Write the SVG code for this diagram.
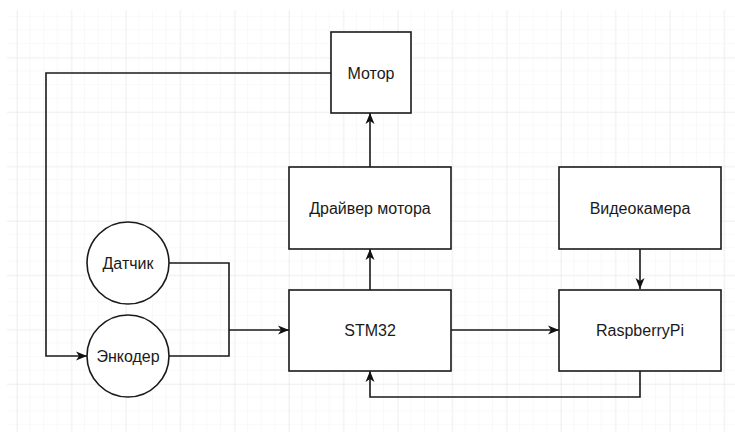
<svg xmlns="http://www.w3.org/2000/svg" width="735" height="432" viewBox="0 0 735 432">
<defs>
<pattern id="minor" patternUnits="userSpaceOnUse" x="3.4" y="3.3" width="13.6" height="13.6">
<path d="M13.6 0V13.6M0 13.6H13.6" fill="none" stroke="#f3f3f3" stroke-width="1"/>
</pattern>
<pattern id="major" patternUnits="userSpaceOnUse" x="17" y="3.3" width="54.4" height="54.4">
<path d="M0 0V54.4M0 0H54.4" fill="none" stroke="#e6e6e6" stroke-width="1"/>
</pattern>
<marker id="arr" viewBox="0 0 11 10" refX="11" refY="5" markerWidth="11" markerHeight="10" markerUnits="userSpaceOnUse" orient="auto">
<path d="M0,0.5 L11,5 L0,9.5 L3,5 z" fill="#111"/>
</marker>
<style>
.box{fill:#fff;stroke:#1a1a1a;stroke-width:1.6}
.lbl{font-family:"Liberation Sans",Arial,sans-serif;font-size:16px;fill:#1a1a1a;text-anchor:middle;dominant-baseline:central}
.ln{fill:none;stroke:#1a1a1a;stroke-width:1.6}
</style>
</defs>
<rect width="735" height="432" fill="#fff"/>
<rect x="7" y="10" width="728" height="422" fill="url(#minor)"/>
<rect x="7" y="10" width="728" height="422" fill="url(#major)"/>
<g id="connectors">
<path class="ln" d="M331 73H46V356H87" marker-end="url(#arr)"/>
<path class="ln" d="M169 263H229V330"/>
<path class="ln" d="M169 356H229V330"/>
<path class="ln" d="M229 330H289" marker-end="url(#arr)"/>
<path class="ln" d="M370 290V249" marker-end="url(#arr)"/>
<path class="ln" d="M370 167V113" marker-end="url(#arr)"/>
<path class="ln" d="M640 249V289" marker-end="url(#arr)"/>
<path class="ln" d="M451 330H559" marker-end="url(#arr)"/>
<path class="ln" d="M640 371V397H370V371" marker-end="url(#arr)"/>
</g>
<g id="motor"><rect class="box" x="331" y="32" width="80" height="81"/><text class="lbl" x="371" y="73">Мотор</text></g>
<g id="driver"><rect class="box" x="289" y="167" width="162" height="82"/><text class="lbl" x="370" y="208">Драйвер мотора</text></g>
<g id="stm32"><rect class="box" x="289" y="290" width="162" height="81"/><text class="lbl" x="370" y="330">STM32</text></g>
<g id="camera"><rect class="box" x="559" y="167" width="162" height="82"/><text class="lbl" x="640" y="208">Видеокамера</text></g>
<g id="raspberry"><rect class="box" x="559" y="290" width="162" height="81"/><text class="lbl" x="640" y="330">RaspberryPi</text></g>
<g id="sensor"><circle class="box" cx="128" cy="263" r="41"/><text class="lbl" x="128" y="263">Датчик</text></g>
<g id="encoder"><circle class="box" cx="128" cy="356" r="41"/><text class="lbl" x="128" y="356">Энкодер</text></g>
</svg>
